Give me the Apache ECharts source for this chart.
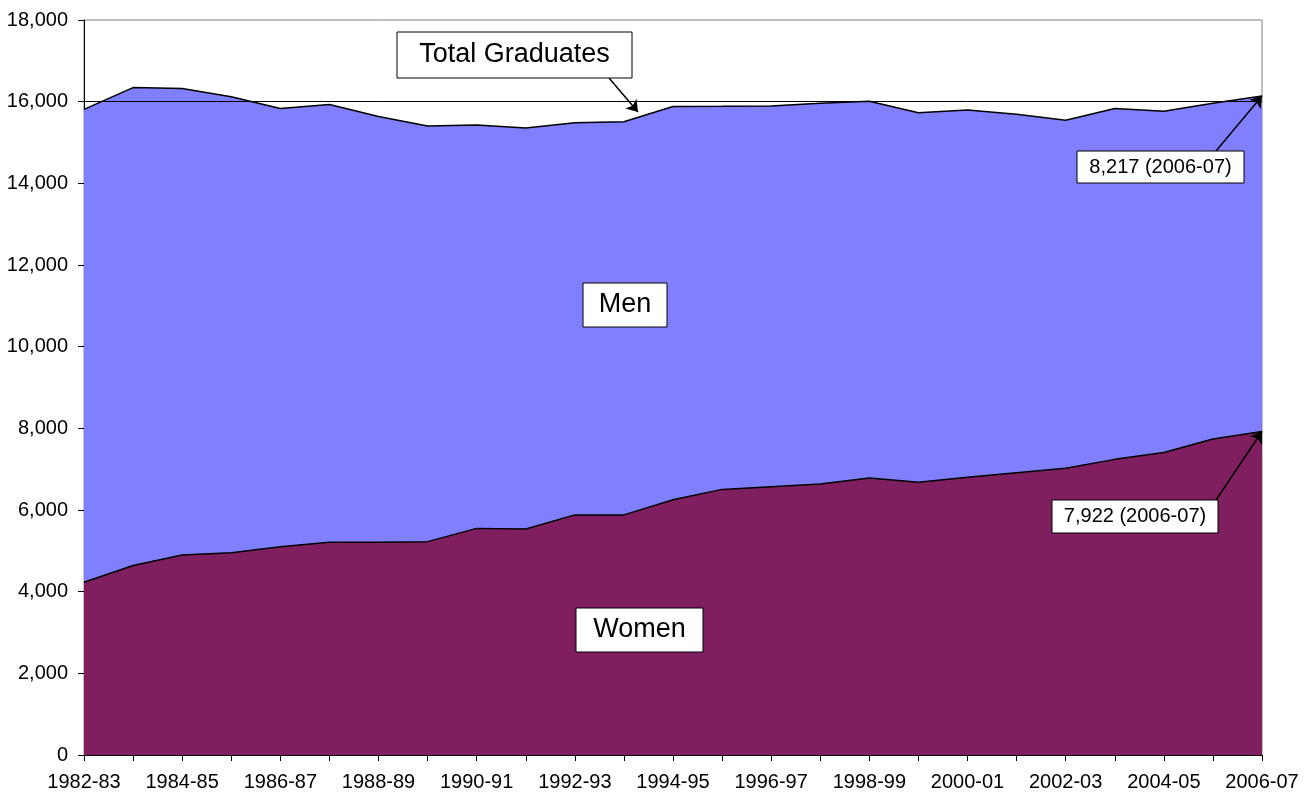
<!DOCTYPE html>
<html>
<head>
<meta charset="utf-8">
<title>Graduates by gender</title>
<script src="https://cdn.jsdelivr.net/npm/echarts@6/dist/echarts.min.js"></script>
<style>
	html, body { margin: 0; padding: 0; background: #fff; }
	#charts { width: 1305px; height: 793px; }
</style>
</head>
<body>
<div id="charts"></div>
<script>
// school years on the x axis
const years = [
	'1982-83', '1983-84', '1984-85', '1985-86', '1986-87', '1987-88', '1988-89',
	'1989-90', '1990-91', '1991-92', '1992-93', '1993-94', '1994-95', '1995-96',
	'1996-97', '1997-98', '1998-99', '1999-00', '2000-01', '2001-02', '2002-03',
	'2003-04', '2004-05', '2005-06', '2006-07'
]

// graduates
const women = [
	4230, 4640, 4900, 4955, 5100, 5210, 5210, 5225, 5550, 5535, 5880, 5880, 6250,
	6505, 6570, 6635, 6785, 6680, 6800, 6915, 7020, 7240, 7410, 7740, 7922
]
const men = [
	11580, 11705, 11420, 11165, 10735, 10720, 10425, 10180, 9880, 9820, 9605, 9630, 9630,
	9380, 9325, 9325, 9225, 9050, 8995, 8775, 8525, 8595, 8355, 8220, 8217
]

const yTicks = { min: 0, max: 18000, interval: 2000 }
const refLine = 16000

const total = women.map((w, i) => w + men[i])
const lastYear = years[years.length - 1]

const font = "'Liberation Sans', Arial, sans-serif"

const chart = echarts.init(document.getElementById('charts'))

// text box with a thin black frame (z on the children, the group's own z is not passed down)
const box = (x, y, w, h, text, size) => ({
	type: 'group',
	x: x,
	y: y,
	children: [
		{
			type: 'rect',
			z: 100,
			shape: { x: 0, y: 0, width: w, height: h },
			style: { fill: '#fff', stroke: '#000', lineWidth: 1 }
		},
		{
			type: 'text',
			z: 101,
			x: w / 2,
			y: h / 2,
			style: {
				text: text,
				font: size + 'px ' + font,
				fill: '#000',
				align: 'center',
				verticalAlign: 'middle'
			}
		}
	]
})

chart.setOption({
	animation: false,
	grid: {
		left: 84,
		right: 43,
		top: 20,
		bottom: 38,
		show: true,
		borderColor: '#808080',
		borderWidth: 1,
		outerBoundsMode: 'none'
	},
	xAxis: {
		type: 'category',
		data: years,
		boundaryGap: false,
		axisLine: { lineStyle: { color: '#000', width: 1 } },
		axisTick: { show: true, interval: 0, length: 6, lineStyle: { color: '#000' } },
		axisLabel: {
			interval: 1,
			margin: 17,
			color: '#000',
			fontSize: 20,
			fontFamily: font
		},
		splitLine: { show: false }
	},
	yAxis: {
		type: 'value',
		min: yTicks.min,
		max: yTicks.max,
		interval: yTicks.interval,
		axisLine: { show: true, lineStyle: { color: '#000', width: 1 } },
		axisTick: { show: true, length: 6, lineStyle: { color: '#000' } },
		axisLabel: {
			margin: 16,
			color: '#000',
			fontSize: 20,
			fontFamily: font,
			formatter: v => v.toLocaleString('en-US')
		},
		splitLine: { show: false }
	},
	series: [
		{
			name: 'Women',
			type: 'line',
			stack: 'grads',
			data: women,
			symbol: 'none',
			lineStyle: { color: '#000', width: 1.5 },
			areaStyle: { color: '#7F1F5F', opacity: 1 },
			z: 3,
			markLine: {
				silent: true,
				symbol: ['none', 'arrow'],
				symbolSize: 11,
				label: { show: false },
				lineStyle: { color: '#000', width: 1.5, type: 'solid' },
				data: [
					[{ x: 1216, y: 500 }, { coord: [lastYear, women[women.length - 1]] }]
				]
			}
		},
		{
			name: 'Men',
			type: 'line',
			stack: 'grads',
			data: men,
			symbol: 'none',
			lineStyle: { color: '#000', width: 1.5 },
			areaStyle: { color: '#8080FF', opacity: 1 },
			z: 2
		},
		{
			// helper for the reference line and arrows
			name: 'Total',
			type: 'line',
			data: total,
			symbol: 'none',
			silent: true,
			lineStyle: { opacity: 0 },
			z: 5,
			markLine: {
				silent: true,
				symbol: ['none', 'none'],
				label: { show: false },
				lineStyle: { color: '#000', width: 1, type: 'solid' },
				data: [
					{ yAxis: refLine },
					[
						{ x: 609, y: 78, symbol: 'none' },
						{ x: 638, y: 112, symbol: 'arrow', symbolSize: 11, lineStyle: { width: 1.5 } }
					],
					[
						{ x: 1216, y: 151, symbol: 'none' },
						{ coord: [lastYear, total[total.length - 1]], symbol: 'arrow', symbolSize: 11, lineStyle: { width: 1.5 } }
					]
				]
			}
		}
	],
	graphic: [
		box(397, 32, 235, 46, 'Total Graduates', 27),
		box(583, 283, 84, 44, 'Men', 27),
		box(576, 608, 127, 44, 'Women', 27),
		box(1077, 151, 167, 32, '8,217 (2006-07)', 20),
		box(1052, 500, 166, 33, '7,922 (2006-07)', 20)
	]
})
</script>
</body>
</html>
